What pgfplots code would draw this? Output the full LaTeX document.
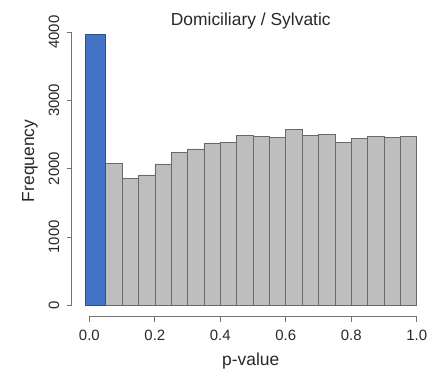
\documentclass[border=0pt]{standalone}
\usepackage{fontspec}
\setmainfont{Liberation Sans}
\usepackage{pgfplots}
\pgfplotsset{compat=1.18}
\definecolor{hlblue}{RGB}{68,114,196}
\definecolor{hledge}{RGB}{47,82,143}
\definecolor{barfill}{RGB}{190,190,190}
\definecolor{baredge}{RGB}{105,105,105}
\definecolor{axgray}{RGB}{115,115,115}
\definecolor{txt}{RGB}{40,40,40}
\begin{document}
\begin{tikzpicture}
\path[use as bounding box] (-71.7bp,-52.3bp) rectangle (371.3bp,316.7bp);
\begin{axis}[
  at={(0,0)}, anchor=south west,
  scale only axis, width=358.1bp, height=292.9bp,
  xmin=-0.054, xmax=1.04, ymin=-167, ymax=4120,
  axis lines*=left, axis line style={draw=none},
  xtick={0,0.2,0.4,0.6,0.8,1.0},
  xticklabels={0.0,0.2,0.4,0.6,0.8,1.0},
  ytick={0,1000,2000,3000,4000},
  yticklabels={0,1000,2000,3000,4000},
  tick align=outside, major tick length=5bp,
  tick style={axgray, line width=0.8pt},
  /pgf/number format/assume math mode=true,
  ticklabel style={font=\fontsize{15}{17}\selectfont, text=txt},
  xticklabel shift=5bp,
  yticklabel shift=4bp,
  yticklabel style={rotate=90, anchor=south},
  title={Domiciliary / Sylvatic},
  title style={font=\fontsize{17.5}{20}\selectfont, text=txt, at={(axis description cs:0.5,1)}, anchor=base, yshift=-8bp},
  xlabel={p-value},
  xlabel style={font=\fontsize{17.5}{20}\selectfont, text=txt, at={(axis description cs:0.5,-0.165)}, anchor=base},
  ylabel={Frequency},
  ylabel style={font=\fontsize{17.5}{20}\selectfont, text=txt, at={(axis description cs:-0.1165,0.532)}, anchor=center},
  clip=false,
]
\addplot[ybar interval, fill=barfill, draw=baredge, line width=0.6pt] coordinates {
(0.05,2078) (0.10,1859) (0.15,1907) (0.20,2068) (0.25,2239) (0.30,2288)
(0.35,2376) (0.40,2385) (0.45,2488) (0.50,2473) (0.55,2459) (0.60,2576)
(0.65,2488) (0.70,2502) (0.75,2385) (0.80,2439) (0.85,2473) (0.90,2463)
(0.95,2473) (1.00,2473)};
\addplot[ybar interval, fill=hlblue, draw=hledge, line width=1.2pt] coordinates {(-0.013,3961) (0.05,3961)};
\draw[axgray, line width=0.8pt] (axis cs:-0.054,0) -- (axis cs:-0.054,4000);
\draw[axgray, line width=0.8pt] (axis cs:0,-167) -- (axis cs:1,-167);
\end{axis}
\end{tikzpicture}
\end{document}
